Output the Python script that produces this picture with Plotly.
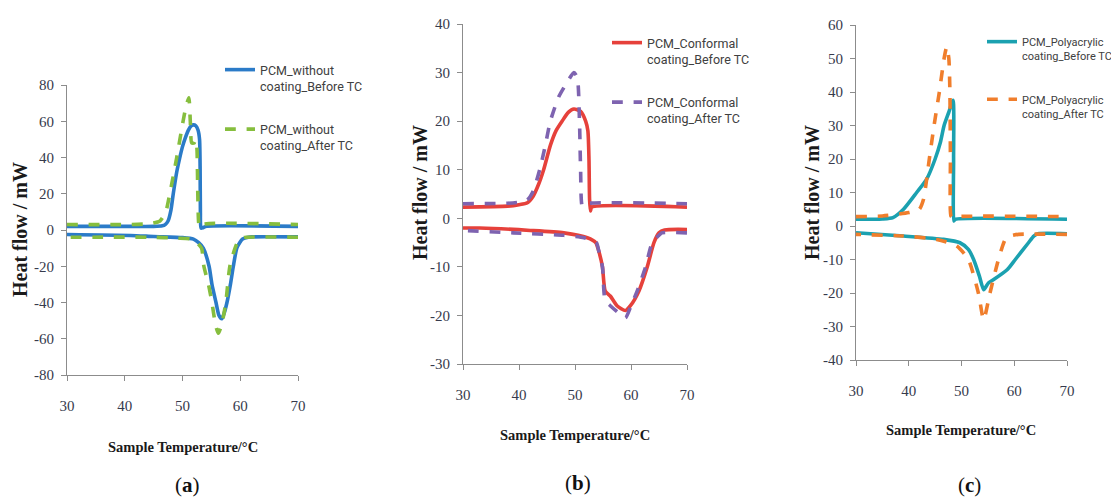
import plotly.graph_objects as go

# ---------------- data ----------------
# Panel (a): PCM without coating
A_BEFORE_HEAT_X = [30, 40, 45, 46.5, 47, 47.5, 48, 48.4, 49, 49.5, 50, 50.5, 51, 51.5, 51.9, 52.3, 52.7, 52.95, 53.05, 53.1, 53.2, 53.5, 54, 70]
A_BEFORE_HEAT_Y = [2, 2, 2, 2.3, 3, 5, 11, 20, 32, 39.5, 46, 51, 55, 57.5, 58, 57.5, 55, 50, 35, 10, 1, 1.2, 2, 2]
A_BEFORE_COOL_X = [70, 62, 61.4, 60.4, 59.9, 59.4, 58.8, 58.3, 57.7, 57.2, 56.8, 56.3, 55.8, 55.1, 54.6, 53.6, 52.8, 51.9, 50, 45, 41, 30]
A_BEFORE_COOL_Y = [-3.8, -3.8, -4, -5, -7, -10, -20, -30, -40, -46, -49, -47, -40, -30, -20, -10, -7, -5, -4.2, -3.6, -3, -2.5]
A_AFTER_HEAT_X = [30, 40, 44.4, 46.1, 47.1, 47.8, 49.0, 50.1, 50.6, 51.1, 51.35, 51.6, 52.0, 52.3, 52.5, 52.65, 52.8, 53.0, 53.3, 70]
A_AFTER_HEAT_Y = [3, 3, 3.5, 5, 10, 20, 40, 60, 68, 73, 60, 48, 48, 50, 45, 20, 4, 1.5, 3, 3]
A_AFTER_COOL_X = [70, 61, 60.3, 59.8, 59.1, 58.2, 57.5, 56.8, 56.2, 55.7, 55.1, 54.5, 53.7, 53.3, 52.5, 51.5, 49, 45, 30]
A_AFTER_COOL_Y = [-4, -4, -4.5, -5, -10, -20, -40, -52, -57, -52, -40, -30, -20, -10, -7, -5, -4.5, -4, -4]

# Panel (b): PCM with conformal coating
B_BEFORE_HEAT_X = [30, 38, 40, 41.5, 42.5, 43.5, 44.4, 45.6, 46.6, 47.7, 48.8, 49.8, 51.0, 51.9, 52.3, 52.5, 52.6, 52.75, 53, 70]
B_BEFORE_HEAT_Y = [2.3, 2.5, 2.8, 3.2, 4.5, 7, 10, 15, 18, 20, 21.8, 22.5, 22, 20, 18, 12, 4, 1.5, 2.3, 2.3]
B_BEFORE_COOL_X = [70, 66, 65, 64.1, 62.9, 61.4, 59.9, 59.0, 57.5, 56.3, 55.4, 54.9, 54.3, 53.7, 52.2, 48, 42, 33, 30]
B_BEFORE_COOL_Y = [-2.3, -2.4, -3, -5, -10, -15, -18, -19, -18, -16, -15, -10, -7, -5, -4, -3, -2.5, -2, -2]
B_AFTER_HEAT_X = [30, 38, 40, 41.5, 42.5, 43.7, 44.7, 45.6, 47.1, 48.6, 49.8, 50.4, 50.8, 51.0, 51.3, 51.9, 70]
B_AFTER_HEAT_Y = [3, 3.1, 3.3, 3.8, 5.5, 10, 15, 20, 25, 28, 30, 29, 20, 10, 2.5, 3, 3]
B_AFTER_COOL_X = [70, 65.5, 65, 63.8, 62.6, 61.1, 60.0, 59.0, 57.8, 56.3, 55.4, 54.9, 54.3, 53.8, 51.6, 48, 39, 30]
B_AFTER_COOL_Y = [-3, -3, -3.5, -5, -10, -15, -18, -20.5, -19.5, -18, -17, -10, -7, -5, -4, -3.5, -3, -2.5]

# Panel (c): PCM with polyacrylic coating
C_BEFORE_HEAT_X = [30, 35, 37, 39.0, 41.5, 43.4, 45.0, 46.0, 46.7, 47.6, 48.4, 48.5, 48.55, 48.8, 70]
C_BEFORE_HEAT_Y = [2, 2.1, 2.5, 5, 10, 14, 20, 25, 30, 34, 37.5, 20, 1.5, 2, 2]
C_BEFORE_COOL_X = [70, 64.5, 63.7, 62.7, 60.2, 58.7, 56.1, 55.1, 54.2, 53.4, 52.3, 51.3, 49.7, 46.6, 39, 30]
C_BEFORE_COOL_Y = [-2.3, -2.3, -3, -5, -10, -13, -16, -17, -19, -15, -10, -7, -5, -4, -3, -2]
C_AFTER_HEAT_X = [30, 35, 40, 42, 42.8, 43.4, 43.9, 44.8, 45.8, 46.7, 47.2, 47.6, 47.8, 47.9, 48.0, 48.35, 49, 70]
C_AFTER_HEAT_Y = [2.8, 3, 4, 5, 8, 14, 20, 30, 40, 50, 53.5, 50, 40, 20, 3, 2.5, 2.8, 2.8]
C_AFTER_COOL_X = [70, 60.8, 59.2, 58.3, 57.0, 55.4, 54.2, 53.2, 51.3, 49.1, 45.3, 39, 30]
C_AFTER_COOL_Y = [-2.5, -2.5, -3, -4, -10, -20, -28, -20, -10, -6, -4, -3, -2.5]

X_TICKS = [30, 40, 50, 60, 70]
A_Y_TICKS = [-80, -60, -40, -20, 0, 20, 40, 60, 80]
B_Y_TICKS = [-30, -20, -10, 0, 10, 20, 30, 40]
C_Y_TICKS = [-40, -30, -20, -10, 0, 10, 20, 30, 40, 50, 60]

NAMES_A = ["PCM_without<br>coating_Before TC", "PCM_without<br>coating_After TC"]
NAMES_B = ["PCM_Conformal<br>coating_Before TC", "PCM_Conformal<br>coating_After TC"]
NAMES_C = ["PCM_Polyacrylic<br>coating_Before TC", "PCM_Polyacrylic<br>coating_After TC"]
PANEL_LABELS = ["a", "b", "c"]
X_TITLE = "Sample Temperature/\u00b0C"
Y_TITLE = "Heat flow / mW"

# ---------------- figure ----------------
W, H = 1111, 500
fig = go.Figure()

def add(hx, hy, cx, cy, name, color, dash, ax, legend):
    # heating branch then cooling branch, separated by a gap
    fig.add_trace(go.Scatter(
        x=hx + [None] + cx, y=hy + [None] + cy, mode="lines", name=name,
        line=dict(color=color, width=3.6, dash=dash, shape="spline", smoothing=0.6),
        xaxis="x" + ax, yaxis="y" + ax, legend=legend, legendgroup=name,
    ))

add(A_BEFORE_HEAT_X, A_BEFORE_HEAT_Y, A_BEFORE_COOL_X, A_BEFORE_COOL_Y, NAMES_A[0], "#2B7BC8", "solid", "", "legend")
add(A_AFTER_HEAT_X, A_AFTER_HEAT_Y, A_AFTER_COOL_X, A_AFTER_COOL_Y, NAMES_A[1], "#86BE3E", "dash", "", "legend")
add(B_BEFORE_HEAT_X, B_BEFORE_HEAT_Y, B_BEFORE_COOL_X, B_BEFORE_COOL_Y, NAMES_B[0], "#E6413B", "solid", "2", "legend2")
add(B_AFTER_HEAT_X, B_AFTER_HEAT_Y, B_AFTER_COOL_X, B_AFTER_COOL_Y, NAMES_B[1], "#7E63B0", "dash", "2", "legend2")
add(C_BEFORE_HEAT_X, C_BEFORE_HEAT_Y, C_BEFORE_COOL_X, C_BEFORE_COOL_Y, NAMES_C[0], "#1BA1B0", "solid", "3", "legend3")
add(C_AFTER_HEAT_X, C_AFTER_HEAT_Y, C_AFTER_COOL_X, C_AFTER_COOL_Y, NAMES_C[1], "#F07E2C", "dash", "3", "legend3")

AX_COLOR = "#8c8c8c"
TICK_FONT = dict(family="Liberation Serif, 'Times New Roman', serif", size=15, color="#363a4c")

def xax(domain, anchor):
    return dict(domain=domain, anchor=anchor, range=[30, 70], tickvals=X_TICKS,
                ticktext=[str(v) for v in X_TICKS], showgrid=False, zeroline=False,
                showline=True, linecolor=AX_COLOR, linewidth=1, ticks="outside",
                ticklen=5, tickcolor=AX_COLOR, tickfont=TICK_FONT, ticklabelstandoff=12,
                automargin=False)

def yax(domain, anchor, rng, ticks):
    return dict(domain=domain, anchor=anchor, range=rng, tickvals=ticks,
                ticktext=[str(v) for v in ticks], showgrid=False, zeroline=False,
                showline=True, linecolor=AX_COLOR, linewidth=1, ticks="outside",
                ticklen=5, tickcolor=AX_COLOR, tickfont=TICK_FONT, ticklabelstandoff=4,
                automargin=False)

def px_x(p):
    return p / W

def px_y(p):
    return 1 - p / H

LEG_FAMILY = "'Liberation Sans Narrow', 'Arial Narrow', Roboto, sans-serif"

def legend(x_px, y_px, size, gap):
    return dict(x=px_x(x_px), y=px_y(y_px), xanchor="left", yanchor="top",
                bgcolor="rgba(0,0,0,0)", font=dict(family=LEG_FAMILY, size=size, color="#404040"),
                valign="top", tracegroupgap=gap, itemwidth=30)

TITLE_FONT = dict(family="Liberation Serif, 'Times New Roman', serif", size=14.5, color="#1a1a1a")
YTITLE_FONT = dict(family="Liberation Serif, 'Times New Roman', serif", size=20, color="#1a1a1a")
LABEL_FONT = dict(family="Liberation Serif, 'Times New Roman', serif", size=21, color="#111111")

annotations = []
for cx, cy in [(182.5, 447), (575, 435), (961, 430)]:
    annotations.append(dict(text="<b>" + X_TITLE + "</b>", x=px_x(cx), y=px_y(cy), xref="paper", yref="paper",
                            showarrow=False, font=TITLE_FONT, xanchor="center", yanchor="middle"))
for cx, cy in [(20, 230), (420, 193), (812, 193)]:
    annotations.append(dict(text="<b>" + Y_TITLE + "</b>", x=px_x(cx), y=px_y(cy), xref="paper", yref="paper",
                            showarrow=False, font=YTITLE_FONT, textangle=-90, xanchor="center", yanchor="middle"))
for lab, (cx, cy) in zip(PANEL_LABELS, [(187, 485), (578, 483), (970, 485)]):
    annotations.append(dict(text="(<b>" + lab + "</b>)", x=px_x(cx), y=px_y(cy), xref="paper", yref="paper",
                            showarrow=False, font=LABEL_FONT, xanchor="center", yanchor="middle"))

fig.update_layout(
    width=W, height=H, margin=dict(l=0, r=0, t=0, b=0, autoexpand=False),
    paper_bgcolor="white", plot_bgcolor="white", showlegend=True,
    xaxis=xax([px_x(67), px_x(298)], "y"),
    yaxis=yax([px_y(375), px_y(85)], "x", [-80, 80], A_Y_TICKS),
    xaxis2=xax([px_x(463), px_x(687)], "y2"),
    yaxis2=yax([px_y(364), px_y(24)], "x2", [-30, 40], B_Y_TICKS),
    xaxis3=xax([px_x(856), px_x(1067)], "y3"),
    yaxis3=yax([px_y(360), px_y(25)], "x3", [-40, 60], C_Y_TICKS),
    legend=legend(220, 55, 12.5, 24),
    legend2=legend(607, 28, 12.5, 24),
    legend3=legend(982, 28, 11, 26),
    annotations=annotations,
)

fig.write_html("out.html", config={"displayModeBar": False},
               post_script="document.body.style.margin='0px';document.body.style.overflow='hidden';")
